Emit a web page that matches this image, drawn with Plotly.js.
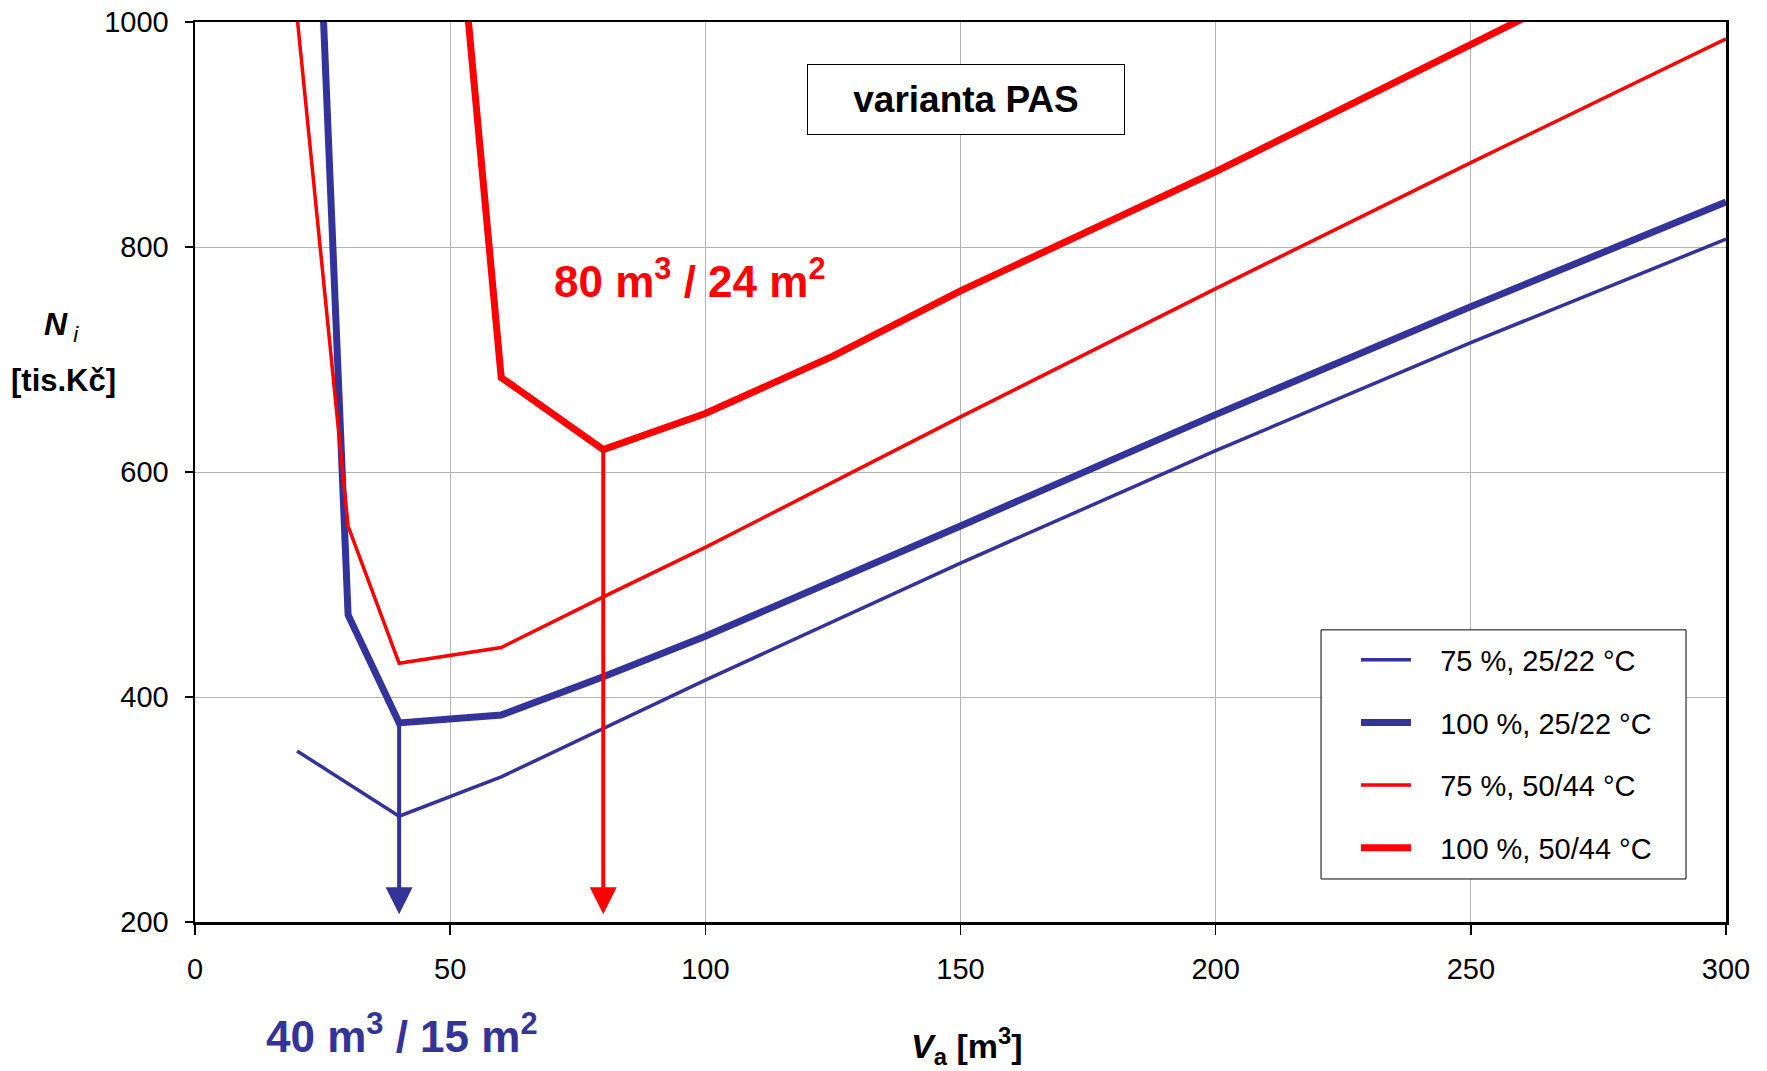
<!DOCTYPE html>
<html>
<head>
<meta charset="utf-8">
<script src="https://cdn.plot.ly/plotly-3.0.1.min.js"></script>
<style>html,body{margin:0;padding:0;background:#fff;}#chart{width:1767px;height:1071px;}</style>
</head>
<body>
<div id="chart"></div>
<script>
// ---- data ----
const seriesNames = ["75 %, 25/22 °C", "100 %, 25/22 °C", "75 %, 50/44 °C", "100 %, 50/44 °C"];

const xBlue75  = [20, 40, 60, 80, 100, 150, 200, 250, 300];
const yBlue75  = [352, 294, 329, 372, 415, 519, 619, 715, 807];

const xBlue100 = [20, 30, 40, 60, 80, 100, 150, 200, 250, 300];
const yBlue100 = [1570, 473, 377, 384, 418, 454, 552, 651, 747, 840];

const xRed75   = [20, 30, 40, 60, 80, 100, 150, 200, 250, 300];
const yRed75   = [1005, 552, 430, 444, 489, 533, 649, 763, 875, 985];

const xRed100  = [40, 60, 80, 100, 125, 150, 200, 250, 300];
const yRed100  = [1670, 684, 620, 652, 703, 761, 867, 980, 1093];

// optimum markers (arrows): start value on curve, arrow tip value
const optBlueX = [40, 40];
const optBlueY = [377, 222];
const optRedX  = [80, 80];
const optRedY  = [620, 222];
const arrowTipY = [207];

const xTicks = [0, 50, 100, 150, 200, 250, 300];
const yTicks = [200, 400, 600, 800, 1000];

// ---- style ----
const BLUE = "#333399";
const RED = "#ff0000";
const FONT = "'Liberation Sans Narrow', 'Arial Narrow', 'Liberation Sans', Arial, sans-serif";
const PAD = "\u00a0\u00a0\u00a0";

const traces = [
  {x: xBlue75, y: yBlue75, name: PAD + seriesNames[0], mode: "lines", line: {color: BLUE, width: 3.5}, legendgroup: "a"},
  {x: xBlue100, y: yBlue100, name: PAD + seriesNames[1], mode: "lines", line: {color: BLUE, width: 7}, legendgroup: "b"},
  {x: xRed75, y: yRed75, name: PAD + seriesNames[2], mode: "lines", line: {color: RED, width: 3.5}, legendgroup: "c"},
  {x: xRed100, y: yRed100, name: PAD + seriesNames[3], mode: "lines", line: {color: RED, width: 7}, legendgroup: "d"},
  {x: optBlueX, y: optBlueY, mode: "lines", line: {color: BLUE, width: 4}, showlegend: false, hoverinfo: "skip"},
  {x: optRedX, y: optRedY, mode: "lines", line: {color: RED, width: 4}, showlegend: false, hoverinfo: "skip"},
  {x: [optBlueX[0]], y: arrowTipY, mode: "markers", marker: {symbol: "arrow-down", size: 27, color: BLUE, line: {width: 0}}, showlegend: false, hoverinfo: "skip", cliponaxis: false},
  {x: [optRedX[0]], y: arrowTipY, mode: "markers", marker: {symbol: "arrow-down", size: 27, color: RED, line: {width: 0}}, showlegend: false, hoverinfo: "skip", cliponaxis: false}
];

const layout = {
  width: 1767, height: 1071,
  margin: {l: 195, r: 41, t: 22, b: 149},
  paper_bgcolor: "#ffffff", plot_bgcolor: "#ffffff",
  font: {family: FONT, size: 29, color: "#000"},
  showlegend: true,
  xaxis: {
    range: [0, 300], tickvals: xTicks, ticktext: xTicks.map(String),
    showgrid: true, gridcolor: "#b4b4b4", gridwidth: 1,
    showline: true, linecolor: "#000", linewidth: 2.5, mirror: true,
    ticks: "outside", ticklen: 10, tickwidth: 1.5, tickcolor: "#000",
    ticklabelstandoff: 10,
    tickfont: {family: FONT, size: 29, color: "#000"},
    zeroline: false, fixedrange: true
  },
  yaxis: {
    range: [200, 1000], tickvals: yTicks, ticktext: yTicks.map(String),
    showgrid: true, gridcolor: "#b4b4b4", gridwidth: 1,
    showline: true, linecolor: "#000", linewidth: 2.5, mirror: true,
    ticks: "outside", ticklen: 8, tickwidth: 1.5, tickcolor: "#000",
    ticklabelstandoff: 10,
    tickfont: {family: FONT, size: 29, color: "#000"},
    zeroline: false, fixedrange: true
  },
  legend: {
    x: 0.7583, y: 0.3196, xanchor: "left", yanchor: "top",
    bgcolor: "rgba(0,0,0,0)", borderwidth: 0,
    font: {family: FONT, size: 29, color: "#000"},
    traceorder: "grouped", tracegroupgap: 22, itemwidth: 50
  },
  shapes: [
    {type: "rect", xref: "paper", yref: "paper", x0: 0.7355, x1: 0.9739, y0: 0.0478, y1: 0.3246,
     line: {color: "#000", width: 1}, fillcolor: "#ffffff", layer: "above"}
  ],
  annotations: [
    {xref: "paper", yref: "paper", x: 0.5036, y: 0.9144, xanchor: "center", yanchor: "middle",
     text: "<b>varianta PAS</b>", showarrow: false,
     font: {family: FONT, size: 37, color: "#000"},
     bordercolor: "#000", borderwidth: 1, borderpad: 0, bgcolor: "#fff", width: 316, height: 69},
    {xref: "x", yref: "y", x: 97, y: 772, xanchor: "center", yanchor: "middle",
     text: "<b>80 m<sup>3</sup> / 24 m<sup>2</sup></b>", showarrow: false,
     font: {family: FONT, size: 44, color: RED}},
    {xref: "paper", yref: "paper", x: 0.135, y: -0.1234, xanchor: "center", yanchor: "middle",
     text: "<b>40 m<sup>3</sup> / 15 m<sup>2</sup></b>", showarrow: false,
     font: {family: FONT, size: 44, color: BLUE}},
    {xref: "paper", yref: "paper", x: 0.504, y: -0.138, xanchor: "center", yanchor: "middle",
     text: "<b><i>V</i></b><sub><b>a</b></sub><b> [m<sup>3</sup>]</b>", showarrow: false,
     font: {family: FONT, size: 34, color: "#000"}},
    {xref: "paper", yref: "paper", x: -0.0875, y: 0.6615, xanchor: "center", yanchor: "middle",
     text: "<b><i>N</i></b><sub><i> i</i></sub>", showarrow: false,
     font: {family: FONT, size: 32, color: "#000"}},
    {xref: "paper", yref: "paper", x: -0.0856, y: 0.6015, xanchor: "center", yanchor: "middle",
     text: "<b>[tis.Kč]</b>", showarrow: false,
     font: {family: FONT, size: 31, color: "#000"}}
  ]
};

Plotly.newPlot("chart", traces, layout, {displayModeBar: false, staticPlot: true});
</script>
</body>
</html>
